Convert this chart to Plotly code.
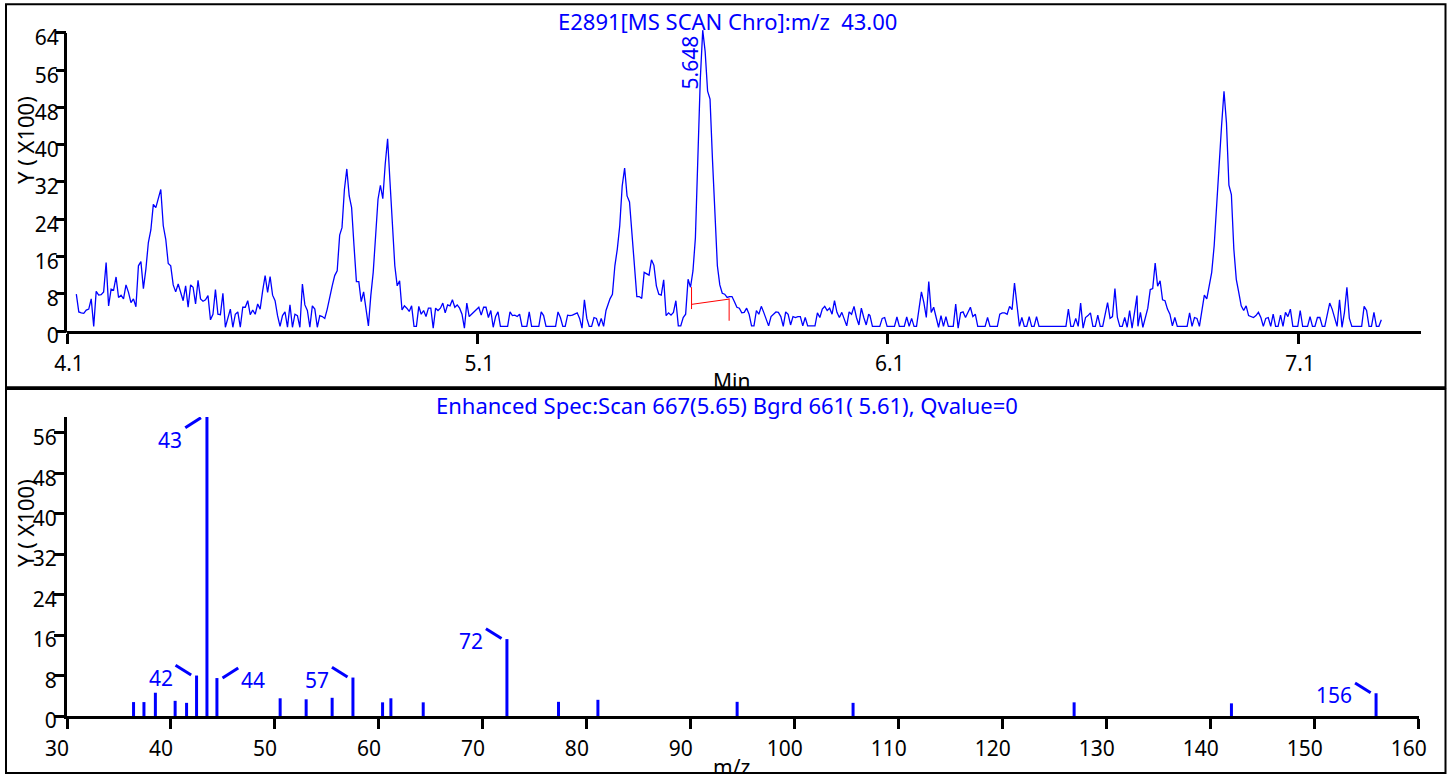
import numpy as np
import plotly.graph_objects as go

W, H = 1453, 774
FONT = "Noto Sans"
BLUE = "#0000FF"

# ---------------- DATA ----------------
# Chromatogram m/z 43.00, intensity in units of 100 counts, five consecutive scan segments
seg_times = [(4.1227, 4.7644), (4.7701, 5.4134), (5.4231, 6.0534), (6.0566, 6.7072), (6.7096, 7.3026)]
seg_a = [7.9, 4.1, 3.9, 3.8, 4.5, 4.7, 6.9, 1.0, 8.5, 7.7,
         7.8, 8.4, 14.7, 5.4, 9.0, 8.8, 11.6, 7.2, 7.7, 6.9,
         9.9, 8.3, 6.1, 6.9, 5.2, 14.0, 14.9, 9.1, 13.3, 19.0,
         21.7, 27.2, 26.5, 28.6, 30.4, 22.6, 19.7, 14.5, 14.0, 9.9,
         8.4, 10.1, 8.3, 6.5, 9.7, 5.1, 9.9, 9.4, 5.8, 10.9,
         6.9, 6.4, 6.7, 7.6, 2.4, 3.6, 8.9, 3.6, 3.5, 8.1,
         0.8, 2.9, 4.7, 0.8, 3.6, 4.1, 0.8, 5.1, 5.1, 6.5,
         3.5, 4.5, 3.6, 5.8, 4.7, 8.6, 11.9, 8.3, 11.7, 7.7,
         6.5, 3.3, 1.0, 3.3, 4.1, 0.8, 5.6, 0.8, 3.6, 3.3,
         0.8, 10.1, 5.6, 4.4, 0.8, 5.4, 4.7, 0.8, 3.3, 3.1,
         2.7, 4.7, 7.6, 9.7, 11.9, 12.9, 20.6]
seg_b = [22.2, 30.4, 34.8, 29.0, 26.5, 18.3, 10.6, 10.6, 6.3, 8.4,
         5.1, 1.1, 7.6, 12.6, 20.4, 28.3, 31.3, 28.4, 35.8, 41.3,
         32.0, 23.0, 14.0, 9.7, 10.8, 4.5, 5.4, 4.9, 4.2, 5.4,
         1.0, 1.0, 5.3, 3.6, 4.4, 3.1, 4.9, 4.9, 0.6, 4.9,
         4.4, 4.9, 6.0, 3.9, 5.6, 5.4, 6.7, 5.1, 5.6, 4.9,
         3.6, 0.6, 6.0, 3.1, 3.6, 4.1, 4.7, 5.1, 3.4, 5.1,
         5.1, 2.9, 4.4, 0.8, 3.1, 4.1, 1.0, 1.0, 1.0, 1.0,
         4.1, 3.3, 3.4, 3.1, 3.6, 1.0, 1.0, 1.0, 4.1, 1.0,
         1.0, 1.0, 1.0, 4.1, 3.3, 1.0, 1.0, 1.0, 1.0, 1.0,
         4.1, 2.9, 1.0, 1.0, 3.4, 3.3, 3.4, 3.6, 3.9, 2.7,
         0.6, 6.7, 2.7, 1.0, 1.0, 2.9, 2.7, 1.0, 2.7, 1.0,
         4.4]
seg_c = [6.9, 7.9, 14.0, 17.6, 22.6, 31.1, 35.0, 29.0, 27.7, 21.1,
         14.0, 7.4, 7.4, 7.0, 12.6, 12.2, 12.0, 15.3, 14.1, 9.7,
         7.9, 7.7, 11.0, 3.3, 3.9, 3.4, 4.0, 6.5, 1.1, 1.1,
         2.9, 3.6, 11.1, 9.4, 12.9, 20.0, 38.3, 54.0, 64.6, 60.0,
         51.5, 49.8, 36.8, 24.0, 14.0, 9.9, 8.1, 7.9, 7.2, 7.4,
         7.4, 6.3, 5.1, 4.9, 3.9, 4.0, 4.9, 3.6, 1.1, 1.1,
         4.4, 3.6, 5.3, 4.0, 2.6, 1.1, 3.1, 3.6, 4.1, 4.0,
         3.1, 1.0, 4.1, 3.6, 1.3, 3.1, 2.9, 3.1, 3.1, 1.1,
         2.9, 1.1, 1.1, 1.1, 1.1, 3.9, 2.9, 4.7, 5.3, 4.4,
         4.9, 3.6, 6.5, 4.0, 2.9, 4.0, 2.6, 1.1, 4.1, 3.6,
         5.3, 2.9, 1.3, 4.9, 2.9, 1.3, 3.6]
seg_d = [3.3, 1.0, 1.0, 1.0, 1.0, 2.7, 2.9, 1.0, 1.0, 1.0,
         1.0, 3.0, 1.0, 1.0, 1.0, 3.0, 1.0, 2.7, 1.0, 1.0,
         4.6, 8.4, 6.1, 2.9, 10.6, 4.0, 5.1, 2.9, 0.8, 3.3,
         1.0, 3.1, 1.0, 1.0, 1.0, 5.8, 0.6, 3.9, 4.1, 2.9,
         4.1, 5.1, 3.1, 3.6, 1.0, 1.0, 1.0, 1.0, 2.9, 1.0,
         1.0, 1.0, 1.0, 3.6, 3.9, 3.9, 3.6, 5.3, 4.6, 10.3,
         5.1, 1.0, 2.9, 1.0, 1.0, 3.1, 1.0, 1.0, 3.1, 1.0,
         1.0, 1.0, 1.0, 1.0, 1.0, 1.0, 1.0, 1.0, 1.0, 1.0,
         1.0, 4.7, 1.0, 1.0, 2.7, 1.0, 6.0, 0.6, 2.9, 3.3,
         3.9, 1.0, 1.0, 3.4, 1.0, 1.0, 3.9, 6.1, 2.7, 3.1,
         9.1, 2.9, 1.0, 1.0, 2.9, 0.8, 4.4, 0.6, 4.0, 7.6]
seg_e = [1.0, 4.0, 0.8, 3.1, 4.9, 8.9, 9.1, 14.6, 9.6, 10.8,
         6.7, 6.5, 4.7, 3.6, 1.1, 2.9, 1.0, 1.0, 1.0, 1.0,
         1.0, 3.9, 1.0, 2.9, 2.7, 1.0, 4.7, 7.7, 6.9, 9.7,
         12.6, 18.3, 27.6, 36.8, 44.0, 51.5, 44.7, 31.3, 29.3, 17.6,
         11.1, 8.3, 5.4, 4.4, 5.4, 3.3, 3.1, 2.9, 3.3, 4.0,
         2.9, 1.0, 2.7, 2.9, 1.0, 3.6, 1.0, 1.0, 3.4, 1.0,
         4.0, 3.1, 4.7, 1.0, 1.0, 1.0, 4.4, 1.0, 1.0, 1.0,
         3.1, 1.0, 1.0, 2.9, 2.9, 1.0, 1.0, 3.3, 6.0, 4.7,
         2.6, 1.0, 6.7, 0.8, 4.0, 9.4, 2.7, 1.0, 1.0, 1.0,
         1.0, 1.0, 5.3, 4.4, 1.0, 1.0, 4.0, 1.0, 1.0, 2.4]
segments = [seg_a, seg_b, seg_c, seg_d, seg_e]

chrom_title = "E2891[MS SCAN Chro]:m/z  43.00"
chrom_xticks = [4.1, 5.1, 6.1, 7.1]
chrom_yticks = [0, 8, 16, 24, 32, 40, 48, 56, 64]
peak_rt = 5.648
peak_apex = 64.6
# integration marks of the labelled peak (red)
integ_t = [5.6218, 5.7134]
integ_base = [5.72, 6.85]
integ_tick_lo = [4.71, 2.2]
integ_tick_hi = [9.42, 7.0]

# Mass spectrum (intensity in units of 100 counts)
spec_title = "Enhanced Spec:Scan 667(5.65) Bgrd 661( 5.61), Qvalue=0"
spec_mz = [36.4, 37.4, 38.5, 40.4, 41.5, 42.46, 43.46, 44.42, 50.5, 53.0, 55.5, 57.5,
           60.35, 61.15, 64.26, 72.31, 77.27, 81.06, 94.45, 105.6, 126.86, 141.99, 155.9]
spec_int = [2.75, 2.75, 4.6, 3.0, 2.6, 8.0, 59.1, 7.5, 3.5, 3.3, 3.6, 7.6,
            2.7, 3.5, 2.7, 15.2, 2.8, 3.2, 2.8, 2.6, 2.7, 2.5, 4.5]
spec_xticks = [30, 40, 50, 60, 70, 80, 90, 100, 110, 120, 130, 140, 150, 160]
spec_yticks = [0, 8, 16, 24, 32, 40, 48, 56]
label_text = ["43", "42", "44", "57", "72", "156"]
label_idx = [6, 5, 7, 11, 15, 22]
label_side = ["below", "left", "right", "left", "left", "left"]

# ---------------- LAYOUT GEOMETRY (pixels) ----------------
def px(x):
    return x / W

def py(y):
    return 1 - y / H

TOP_X0, TOP_X1 = 67, 1421.3
TOP_Y0, TOP_Y1 = 331, 26.0        # pixel rows for y=0 and y=range max
TOP_RANGE = [0, 65.5]
BOT_X0, BOT_X1 = 67, 1418.7
BOT_Y0, BOT_Y1 = 716, 417
BOT_RANGE = [0, 59.1]

def top_val_to_paper(v):
    return py(TOP_Y0 - (TOP_Y0 - TOP_Y1) * v / TOP_RANGE[1])

fig = go.Figure()

# chromatogram
t_all, v_all = [], []
for (t0, t1), seg in zip(seg_times, segments):
    t_all.extend(np.linspace(t0, t1, len(seg)).tolist())
    v_all.extend(seg)
fig.add_trace(go.Scatter(x=t_all, y=v_all, mode="lines",
                         line=dict(color=BLUE, width=1.3), xaxis="x", yaxis="y",
                         hoverinfo="skip", showlegend=False))

# integration marks
fig.add_trace(go.Scatter(
    x=[integ_t[0], integ_t[1], None, integ_t[0], integ_t[0], None, integ_t[1], integ_t[1]],
    y=[integ_base[0], integ_base[1], None, integ_tick_lo[0], integ_tick_hi[0], None,
       integ_tick_lo[1], integ_tick_hi[1]],
    mode="lines", line=dict(color="#FF0000", width=1), xaxis="x", yaxis="y",
    hoverinfo="skip", showlegend=False))

# spectrum sticks
sx, sy = [], []
for m, v in zip(spec_mz, spec_int):
    sx += [m, m, None]
    sy += [0, v, None]
fig.add_trace(go.Scatter(x=sx, y=sy, mode="lines", line=dict(color=BLUE, width=3),
                         xaxis="x2", yaxis="y2", hoverinfo="skip", showlegend=False))

tickfont = dict(family=FONT, size=21, color="black")
common = dict(showgrid=False, zeroline=False, ticks="outside", ticklen=10, tickwidth=2.5,
              tickcolor="black", tickfont=tickfont, automargin=False)

fig.update_layout(
    width=W, height=H, margin=dict(l=0, r=0, t=0, b=0, pad=0, autoexpand=False),
    paper_bgcolor="white", plot_bgcolor="white", showlegend=False,
    xaxis=dict(domain=[px(TOP_X0), px(TOP_X1)], range=[4.1, 7.4], anchor="y",
               tickvals=chrom_xticks, ticktext=[f"{v:.1f}" for v in chrom_xticks],
               showline=True, linewidth=3, linecolor="black", ticklabelstandoff=2,
               ticklabelshift=2, **common),
    yaxis=dict(domain=[py(TOP_Y0), py(TOP_Y1)], range=TOP_RANGE, anchor="x",
               tickvals=chrom_yticks, showline=False, ticklabelshift=5,
               ticklabelstandoff=-7, **common),
    xaxis2=dict(domain=[px(BOT_X0), px(BOT_X1)], range=[30, 160], anchor="y2",
                tickvals=spec_xticks, showline=True, linewidth=3, linecolor="black",
                ticklabelstandoff=2, ticklabelshift=-10, **common),
    yaxis2=dict(domain=[py(BOT_Y0), py(BOT_Y1)], range=BOT_RANGE, anchor="x2",
                tickvals=spec_yticks, showline=True, linewidth=3, linecolor="black",
                ticklabelshift=5, ticklabelstandoff=-7, **common),
)

shapes = []
# frames
shapes.append(dict(type="rect", xref="paper", yref="paper", x0=px(6), x1=px(1445.5),
                   y0=py(387.2), y1=py(4.3), line=dict(color="black", width=2)))
shapes.append(dict(type="rect", xref="paper", yref="paper", x0=px(6), x1=px(1445.5),
                   y0=py(773), y1=py(389), line=dict(color="black", width=2)))
# top y axis line (0..64)
shapes.append(dict(type="line", xref="paper", yref="paper", x0=px(TOP_X0 - 1.5), x1=px(TOP_X0 - 1.5),
                   y0=top_val_to_paper(0) - 1.5 / H, y1=top_val_to_paper(chrom_yticks[-1]),
                   line=dict(color="black", width=3)))

# spectrum label leaders
side_geom = {
    "left": dict(line=(-21, 10.3, -5.4, 0.5), xanchor="right", xshift=-22, yshift=-2),
    "right": dict(line=(5.6, 0.0, 21.3, 10.0), xanchor="left", xshift=22, yshift=-2),
    "below": dict(line=(-21.7, -10.7, -6.0, -0.7), xanchor="right", xshift=-22.5, yshift=-23),
}
annotations = []
for txt, i, side in zip(label_text, label_idx, label_side):
    g = side_geom[side]
    x0, y0, x1, y1 = g["line"]
    shapes.append(dict(type="line", xref="x2", yref="y2", xsizemode="pixel", ysizemode="pixel",
                       xanchor=spec_mz[i], yanchor=spec_int[i], x0=x0, y0=y0, x1=x1, y1=y1,
                       line=dict(color=BLUE, width=3)))
    annotations.append(dict(xref="x2", yref="y2", x=spec_mz[i], y=spec_int[i], text=txt,
                            showarrow=False, xanchor=g["xanchor"], yanchor="middle",
                            xshift=g["xshift"], yshift=g["yshift"],
                            font=dict(family=FONT, size=21, color=BLUE)))

# titles and axis labels
annotations += [
    dict(xref="paper", yref="paper", x=px(727), y=py(21), text=chrom_title, showarrow=False,
         xanchor="center", yanchor="middle", font=dict(family=FONT, size=22, color=BLUE)),
    dict(xref="paper", yref="paper", x=px(727), y=py(405), text=spec_title, showarrow=False,
         xanchor="center", yanchor="middle", font=dict(family=FONT, size=22, color=BLUE)),
    dict(xref="paper", yref="paper", x=px(25), y=py(140), text="Y ( X100)", showarrow=False,
         textangle=-90, xanchor="center", yanchor="middle", font=dict(family=FONT, size=22, color="black")),
    dict(xref="paper", yref="paper", x=px(25), y=py(523), text="Y ( X100)", showarrow=False,
         textangle=-90, xanchor="center", yanchor="middle", font=dict(family=FONT, size=22, color="black")),
    dict(xref="paper", yref="paper", x=px(731), y=py(381), text="Min", showarrow=False,
         xanchor="center", yanchor="middle", font=dict(family=FONT, size=21, color="black")),
    dict(xref="paper", yref="paper", x=px(731), y=py(767), text="m/z", showarrow=False,
         xanchor="center", yanchor="middle", font=dict(family=FONT, size=21, color="black")),
    dict(xref="x", yref="y", x=peak_rt, y=peak_apex, text=f"{peak_rt:.3f}", showarrow=False,
         textangle=-90, xanchor="center", yanchor="top", xshift=-12, yshift=-3,
         font=dict(family=FONT, size=21, color=BLUE)),
]

fig.update_layout(shapes=shapes, annotations=annotations)
fig.write_html("out.html")
